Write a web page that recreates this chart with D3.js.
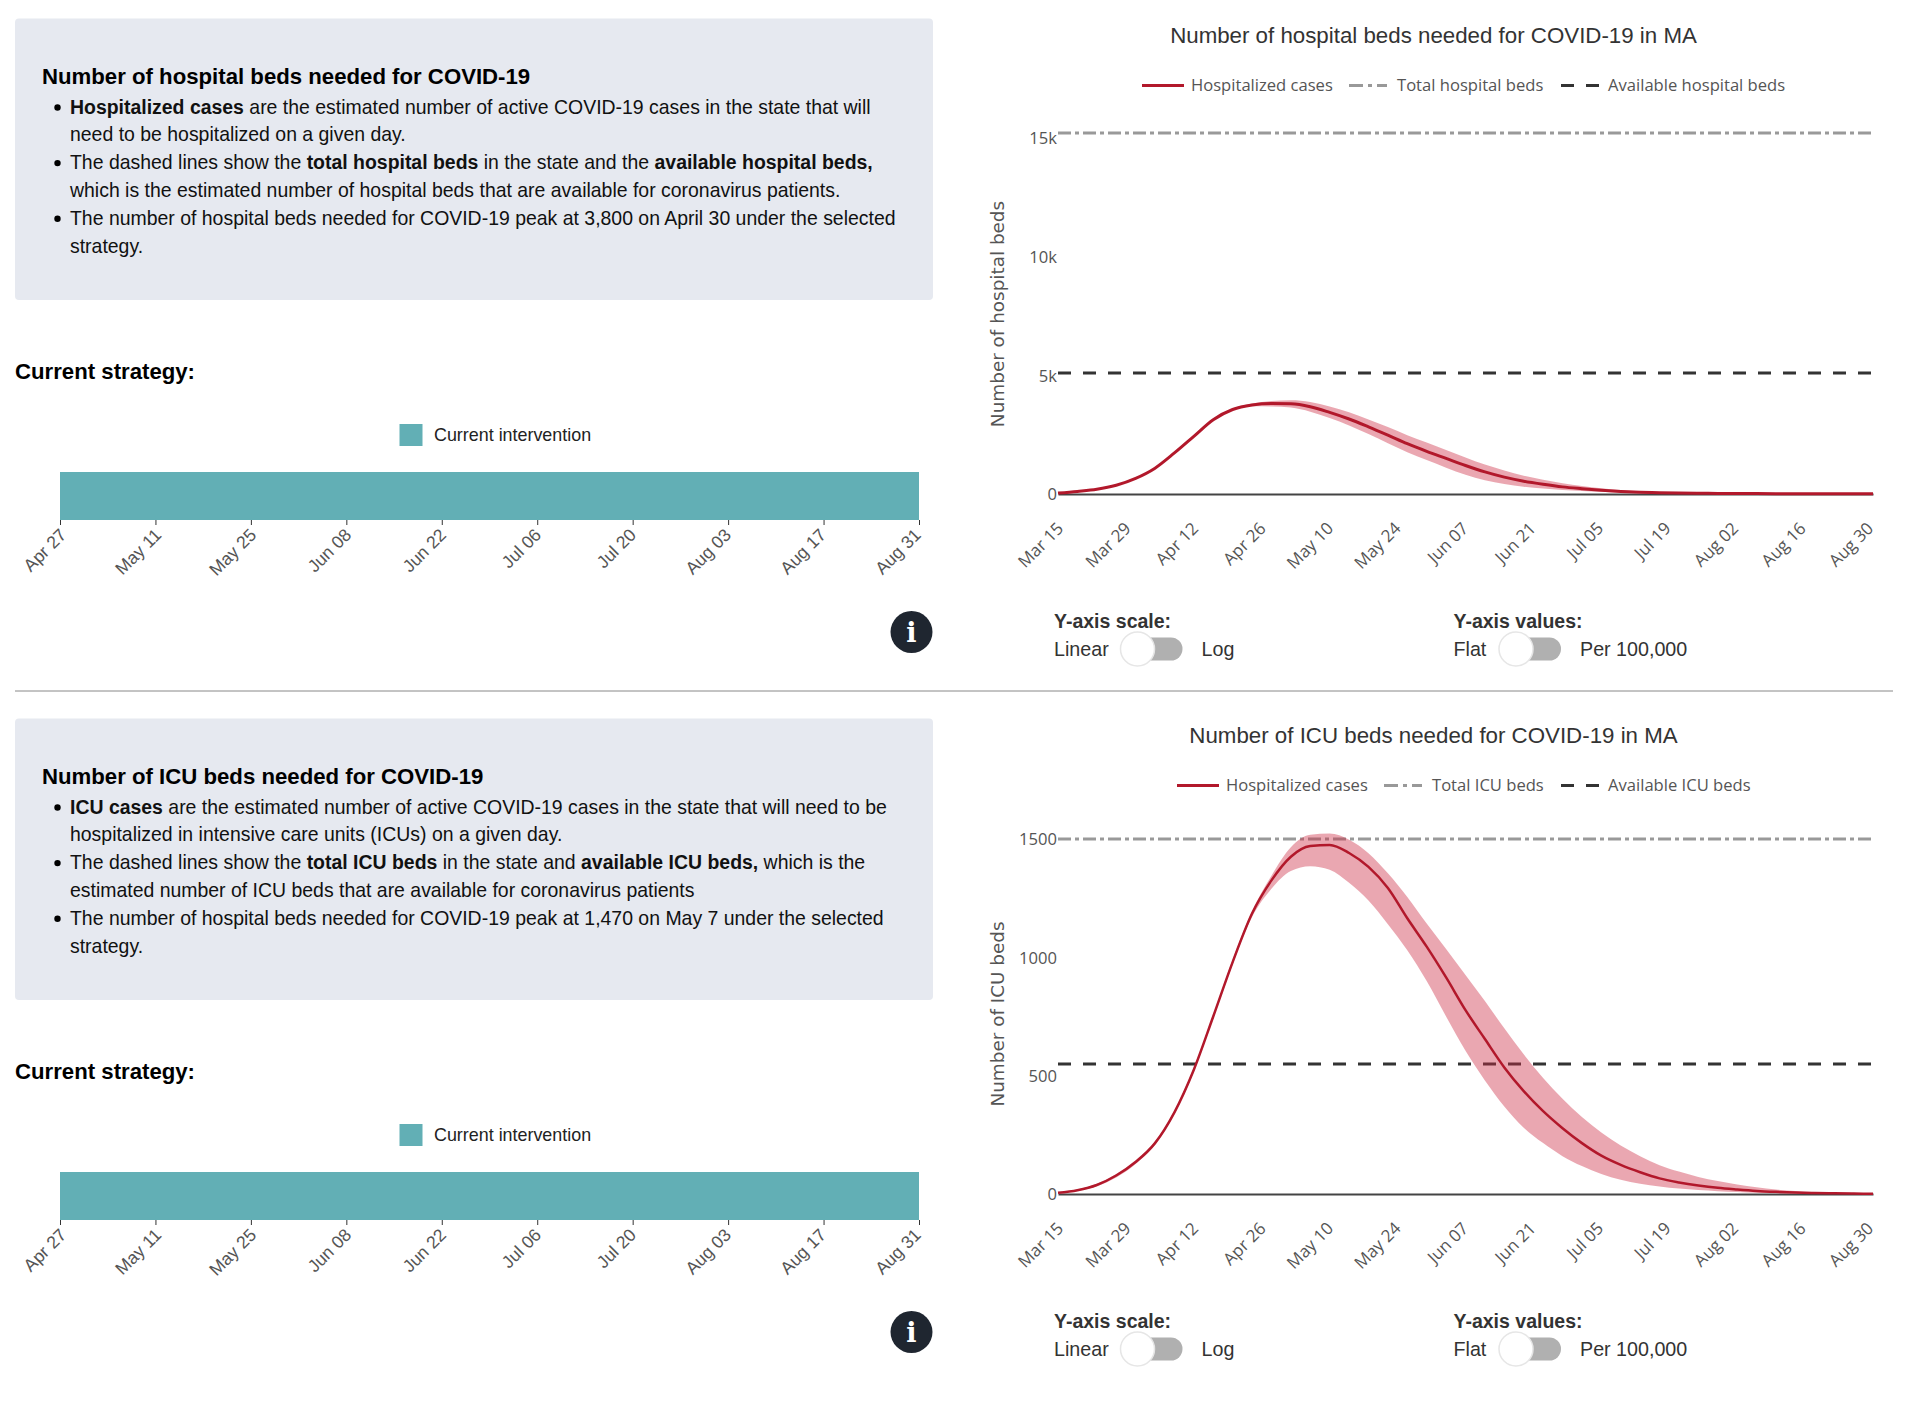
<!DOCTYPE html>
<html>
<head>
<meta charset="utf-8">
<script src="https://cdnjs.cloudflare.com/ajax/libs/d3/7.8.5/d3.min.js"></script>
<style>
  body { margin: 0; background: #fff; }
  text { font-family: "Liberation Sans", Arial, sans-serif; }
</style>
</head>
<body>
<div id="chart"></div>
<script>
// values, one every 4 days from Mar 15
var dayOffsets = [0,4,8,12,16,20,24,28,32,36,40,44,48,52,56,60,64,68,72,76,80,84,88,92,96,100,104,108,112,116,120,124,128,132,136,140,144,148,152,156,160,164,168];

var hospMid = [40,110,200,370,660,1090,1730,2430,3130,3560,3750,3810,3800,3680,3440,3160,2830,2480,2120,1800,1500,1200,930,710,540,410,300,225,160,110,75,55,40,32,26,22,18,15,12,10,9,7,6];
var hospHigh = [45,118,210,385,680,1115,1760,2460,3160,3600,3810,3920,3950,3880,3690,3440,3140,2820,2480,2170,1850,1540,1240,990,770,600,450,340,245,170,115,85,60,45,36,30,24,20,16,13,11,9,7];
var hospLow = [35,102,190,355,640,1065,1700,2400,3100,3530,3700,3690,3640,3470,3200,2890,2530,2140,1760,1430,1110,810,580,420,310,230,170,125,90,60,40,30,22,18,15,12,10,8,7,6,5,4,3];

var icuMid = [5,16,38,78,135,215,345,525,750,980,1185,1325,1425,1470,1475,1441,1382,1293,1165,1045,915,777,655,535,435,350,278,215,162,123,92,66,49,36,26,19,13,9,6,4,3,2,1];
var icuHigh = [6,19,43,85,143,222,352,533,758,990,1195,1345,1465,1518,1523,1497,1440,1355,1255,1143,1035,925,815,700,590,490,402,325,260,205,160,122,95,72,55,40,28,19,13,8,5,3,1];
var icuLow = [4,13,33,70,127,208,338,517,742,970,1170,1290,1365,1385,1370,1315,1240,1140,1030,900,750,605,480,370,280,215,160,118,85,60,43,32,23,17,12,8,5,3,2,1,1,0.5,0.5];

var hospTotal = 15210, hospAvailable = 5098;
var icuTotal = 1500, icuAvailable = 549;

var hospYTicks = [0, 5000, 10000, 15000];
var icuYTicks = [0, 500, 1000, 1500];
var stepDays = 14;
var forecastTickCount = 13;
var strategyTickCount = 10;

var hospBullets = [
  [["Hospitalized cases", true], [" are the estimated number of active COVID-19 cases in the state that will", false]],
  [["need to be hospitalized on a given day.", false]],
  [["The dashed lines show the ", false], ["total hospital beds", true], [" in the state and the ", false], ["available hospital beds,", true]],
  [["which is the estimated number of hospital beds that are available for coronavirus patients.", false]],
  [["The number of hospital beds needed for COVID-19 peak at 3,800 on April 30 under the selected", false]],
  [["strategy.", false]]
];
var icuBullets = [
  [["ICU cases", true], [" are the estimated number of active COVID-19 cases in the state that will need to be", false]],
  [["hospitalized in intensive care units (ICUs) on a given day.", false]],
  [["The dashed lines show the ", false], ["total ICU beds", true], [" in the state and ", false], ["available ICU beds,", true], [" which is the", false]],
  [["estimated number of ICU beds that are available for coronavirus patients", false]],
  [["The number of hospital beds needed for COVID-19 peak at 1,470 on May 7 under the selected", false]],
  [["strategy.", false]]
];

var width = 1920, height = 1412;
var svg = d3.select("#chart").append("svg").attr("width", width).attr("height", height).style("display", "block");

var lineRed = "#b2182b", bandRed = "rgba(205,45,70,0.42)", dashDark = "#333", dashGrey = "#999", teal = "#62afb5";
var totalDash = "13,4,4,4", availDash = "13,12";

var start = new Date(Date.UTC(2020, 2, 15));
var dates = dayOffsets.map(function(d) { return d3.utcDay.offset(start, d); });
var strategyStart = new Date(Date.UTC(2020, 3, 27));
var fmt = d3.utcFormat("%b %d");

// left side: text box, strategy bar, info icon
function drawLeft(g, heading, bullets) {
  g.append("rect").attr("x", 15).attr("y", 18.5).attr("width", 918).attr("height", 281.5).attr("rx", 4).attr("fill", "#e6e9f0");
  g.append("text").attr("x", 42).attr("y", 83.5).attr("font-size", 22.2).attr("font-weight", "bold").attr("fill", "#000").text(heading);

  bullets.forEach(function(segs, i) {
    var y = 113.5 + i * 27.8;
    if (i % 2 == 0) {
      g.append("circle").attr("cx", 57.5).attr("cy", y - 6).attr("r", 3.2).attr("fill", "#000");
    }
    var t = g.append("text").attr("x", 70).attr("y", y).attr("font-size", 19.45).attr("fill", "#111");
    segs.forEach(function(s) {
      t.append("tspan").attr("font-weight", s[1] ? "bold" : "normal").text(s[0]);
    });
  });

  g.append("text").attr("x", 15).attr("y", 379).attr("font-size", 22.2).attr("font-weight", "bold").attr("fill", "#000").text("Current strategy:");

  g.append("rect").attr("x", 399.5).attr("y", 424).attr("width", 23).attr("height", 22).attr("fill", teal);
  g.append("text").attr("x", 434).attr("y", 441).attr("font-size", 17.9).attr("fill", "#222").text("Current intervention");

  var stratTicks = d3.range(strategyTickCount).map(function(i) { return d3.utcDay.offset(strategyStart, i * stepDays); });
  var x = d3.scaleUtc().domain([stratTicks[0], stratTicks[stratTicks.length - 1]]).range([60, 919]);
  g.append("rect").attr("x", x.range()[0]).attr("y", 472).attr("width", x.range()[1] - x.range()[0]).attr("height", 48).attr("fill", teal);

  var ax = g.append("g").attr("transform", "translate(0,520)")
    .call(d3.axisBottom(x).tickValues(stratTicks).tickFormat(fmt).tickSize(5));
  ax.select(".domain").remove();
  ax.selectAll(".tick line").attr("stroke", "#333");
  // labels sit a bit right of their ticks at the left end, same as the picture
  ax.selectAll("text").attr("font-size", 17.6).attr("fill", "#555").attr("x", 0).attr("y", 0).attr("dy", 0)
    .attr("text-anchor", "end").attr("transform", function(d, i) {
      return "translate(" + (7 - i * 0.5) + ",16) rotate(-45)";
    });

  g.append("circle").attr("cx", 911.5).attr("cy", 632).attr("r", 21).attr("fill", "#1f2630");
  g.append("text").attr("x", 911.5).attr("y", 642).attr("text-anchor", "middle").attr("font-size", 27).attr("font-weight", "bold")
    .style("font-family", "DejaVu Serif").attr("fill", "#fff").text("i");
}

// right side: plotly style chart
function drawPlot(g, cfg) {
  var x = d3.scaleUtc().domain([dates[0], dates[dates.length - 1]]).range([1058, 1873]);
  var y = d3.scaleLinear().domain([0, cfg.yTicks[3]]).range([cfg.y0, cfg.y3]);

  g.append("text").attr("x", 1433.5).attr("y", 43).attr("text-anchor", "middle").attr("font-size", 22.3).attr("fill", "#333").text(cfg.title);

  // legend
  var ly = 85.5;
  g.append("line").attr("x1", cfg.lx[0]).attr("x2", cfg.lx[0] + 42).attr("y1", ly).attr("y2", ly).attr("stroke", lineRed).attr("stroke-width", 3);
  g.append("line").attr("x1", cfg.lx[1]).attr("x2", cfg.lx[1] + 38).attr("y1", ly).attr("y2", ly).attr("stroke", dashGrey).attr("stroke-width", 3).attr("stroke-dasharray", "14,5,4,5");
  g.append("line").attr("x1", cfg.lx[2]).attr("x2", cfg.lx[2] + 38).attr("y1", ly).attr("y2", ly).attr("stroke", dashDark).attr("stroke-width", 3).attr("stroke-dasharray", availDash);
  cfg.legend.forEach(function(label, i) {
    g.append("text").attr("x", cfg.lx[i] + [49, 48, 47][i]).attr("y", ly + 5.5).attr("font-size", 16.6).attr("fill", "#555")
      .style("font-family", "Open Sans").text(label);
  });

  // axes
  var yAx = g.append("g").attr("transform", "translate(" + x.range()[0] + ",0)")
    .call(d3.axisLeft(y).tickValues(cfg.yTicks).tickSize(0).tickPadding(1).tickFormat(cfg.yFormat));
  yAx.select(".domain").remove();
  yAx.selectAll("text").attr("font-size", 16.6).style("font-family", "Open Sans").attr("fill", "#555").attr("dy", "0.36em");

  var ticks = d3.range(forecastTickCount).map(function(i) { return d3.utcDay.offset(start, i * stepDays); });
  var xAx = g.append("g").attr("transform", "translate(0," + cfg.y0 + ")")
    .call(d3.axisBottom(x).tickValues(ticks).tickFormat(fmt).tickSize(0));
  xAx.select(".domain").attr("stroke", "#444").attr("stroke-width", 2);
  xAx.selectAll("text").attr("font-size", 17).style("font-family", "Open Sans").attr("fill", "#555")
    .attr("x", 0).attr("y", 0).attr("dy", 0)
    .attr("text-anchor", "end").attr("transform", function(d, i) {
      return "translate(" + (6 - i * 0.42) + ",35.5) rotate(-45)";
    });

  g.append("text").attr("transform", "translate(1004,314) rotate(-90)").attr("text-anchor", "middle")
    .attr("font-size", 18.4).style("font-family", "DejaVu Sans").attr("fill", "#555").text(cfg.yTitle);

  // reference lines
  g.append("line").attr("x1", x.range()[0]).attr("x2", x.range()[1]).attr("y1", y(cfg.total)).attr("y2", y(cfg.total))
    .attr("stroke", dashGrey).attr("stroke-width", 3).attr("stroke-dasharray", totalDash);
  g.append("line").attr("x1", x.range()[0]).attr("x2", x.range()[1]).attr("y1", y(cfg.avail)).attr("y2", y(cfg.avail))
    .attr("stroke", dashDark).attr("stroke-width", 3).attr("stroke-dasharray", availDash);

  // band and line
  var area = d3.area().x(function(d, i) { return x(dates[i]); })
    .y0(function(d, i) { return y(cfg.low[i]); })
    .y1(function(d, i) { return y(cfg.high[i]); })
    .curve(d3.curveMonotoneX);
  g.append("path").attr("d", area(cfg.mid)).attr("fill", bandRed);

  var line = d3.line().x(function(d, i) { return x(dates[i]); }).y(function(d) { return y(d); }).curve(d3.curveMonotoneX);
  g.append("path").attr("d", line(cfg.mid)).attr("fill", "none").attr("stroke", lineRed).attr("stroke-width", cfg.lineWidth);

  drawToggle(g, 1054, "Y-axis scale:", "Linear", 1137.5, "Log", 1201.5);
  drawToggle(g, 1453.5, "Y-axis values:", "Flat", 1516, "Per 100,000", 1580);
}

function drawToggle(g, tx, label, left, knobX, right, rx) {
  g.append("text").attr("x", tx).attr("y", 628).attr("font-size", 19.5).attr("font-weight", "bold").attr("fill", "#333").text(label);
  g.append("text").attr("x", tx).attr("y", 656).attr("font-size", 19.7).attr("fill", "#333").text(left);
  g.append("rect").attr("x", knobX).attr("y", 637.5).attr("width", 45).attr("height", 23).attr("rx", 11.5).attr("fill", "#b0b0b0");
  g.append("circle").attr("cx", knobX).attr("cy", 649).attr("r", 17).attr("fill", "#fff").attr("stroke", "#e6e6e6").attr("stroke-width", 1.5);
  g.append("text").attr("x", rx).attr("y", 656).attr("font-size", 19.7).attr("fill", "#333").text(right);
}

var row1 = svg.append("g");
drawLeft(row1, "Number of hospital beds needed for COVID-19", hospBullets);
drawPlot(row1, {
  title: "Number of hospital beds needed for COVID-19 in MA",
  legend: ["Hospitalized cases", "Total hospital beds", "Available hospital beds"],
  lx: [1142, 1349, 1561],
  yTicks: hospYTicks,
  yFormat: function(d) { return d == 0 ? "0" : (d / 1000) + "k"; },
  y0: 494, y3: 138,
  yTitle: "Number of hospital beds",
  total: hospTotal, avail: hospAvailable,
  mid: hospMid, low: hospLow, high: hospHigh, lineWidth: 3
});

svg.append("line").attr("x1", 15).attr("x2", 1893).attr("y1", 691).attr("y2", 691).attr("stroke", "#888").attr("stroke-width", 1);

var row2 = svg.append("g").attr("transform", "translate(0,700)");
drawLeft(row2, "Number of ICU beds needed for COVID-19", icuBullets);
drawPlot(row2, {
  title: "Number of ICU beds needed for COVID-19 in MA",
  legend: ["Hospitalized cases", "Total ICU beds", "Available ICU beds"],
  lx: [1177, 1384, 1561],
  yTicks: icuYTicks,
  yFormat: function(d) { return d; },
  y0: 494, y3: 139,
  yTitle: "Number of ICU beds",
  total: icuTotal, avail: icuAvailable,
  mid: icuMid, low: icuLow, high: icuHigh, lineWidth: 2.5
});
</script>
</body>
</html>
